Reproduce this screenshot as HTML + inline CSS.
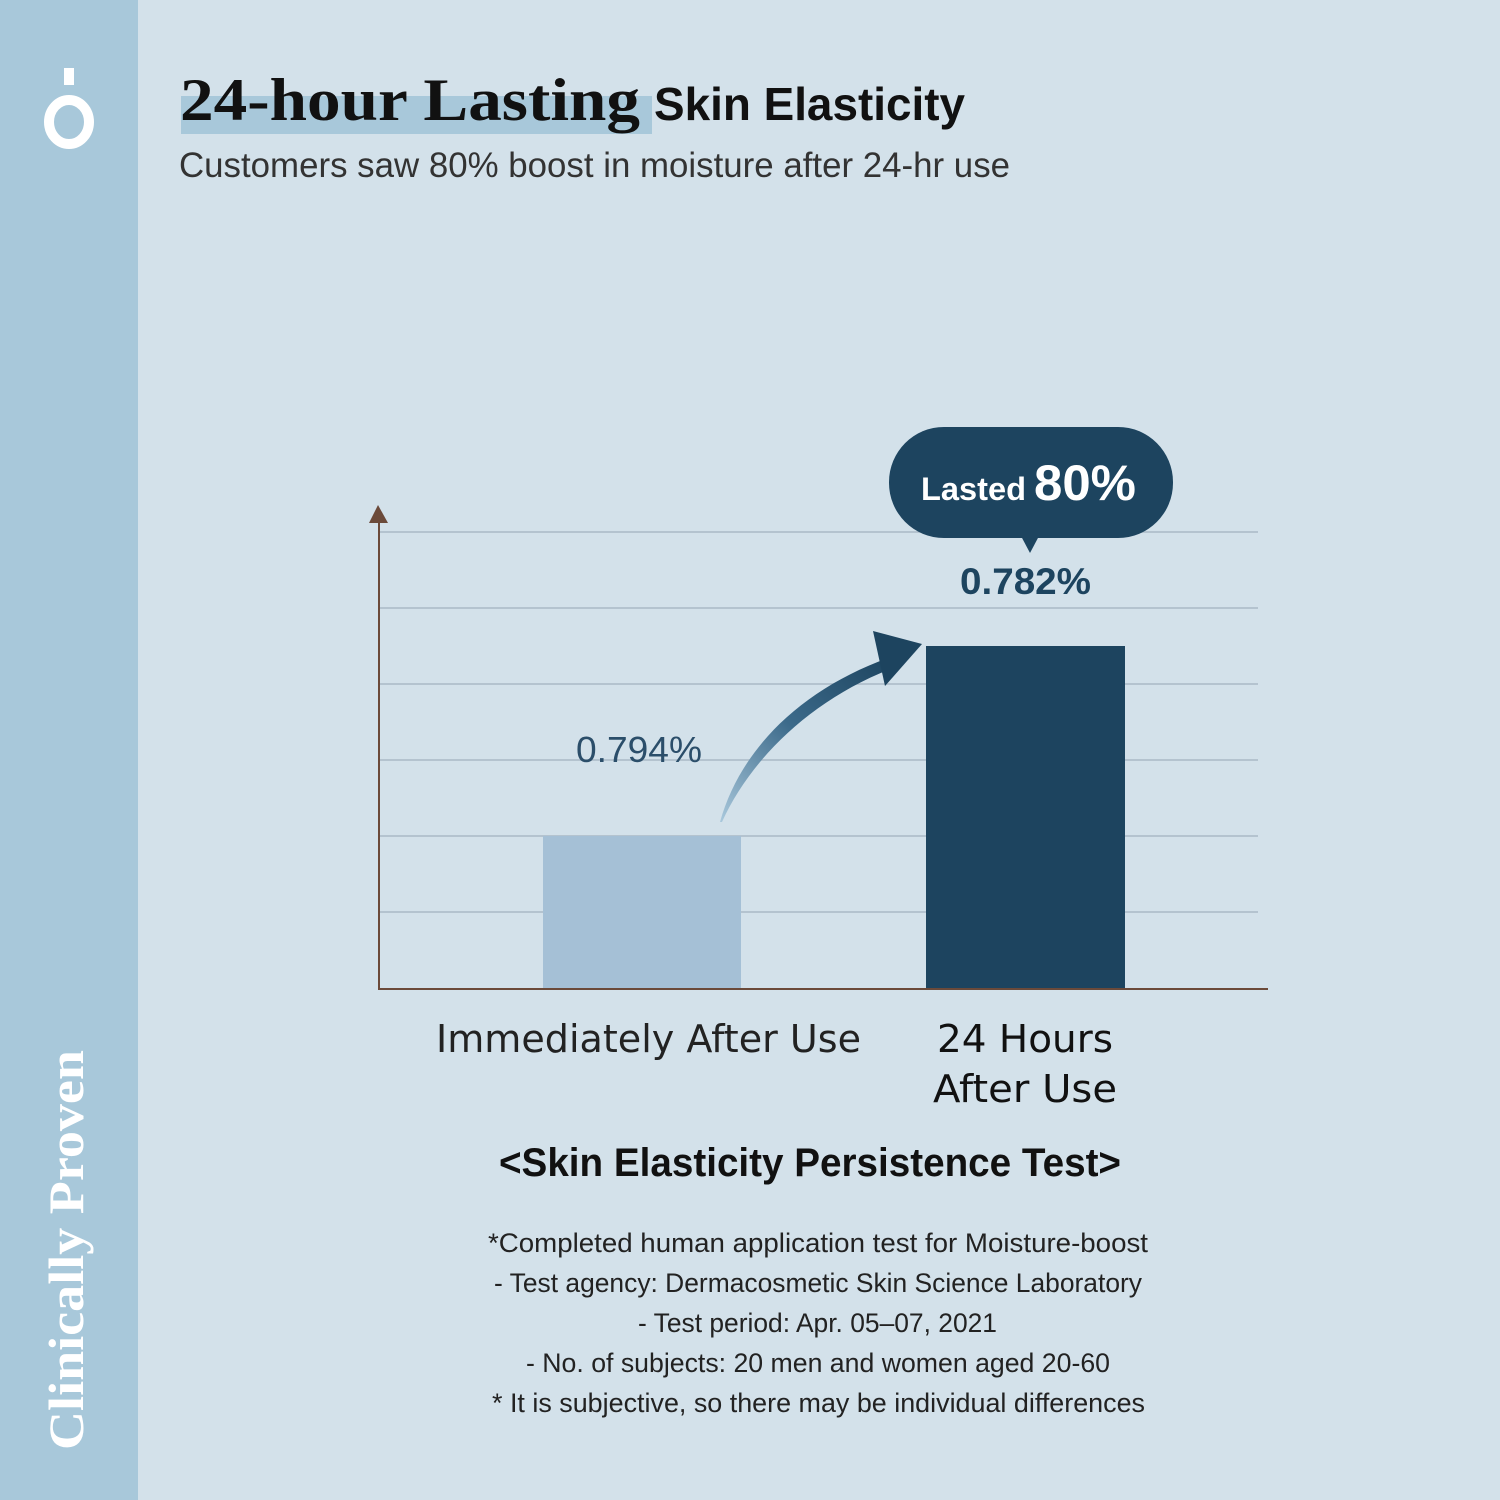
<!DOCTYPE html>
<html><head><meta charset="utf-8"><style>
html,body{margin:0;padding:0}
body{width:1500px;height:1500px;background:#d3e1ea;position:relative;overflow:hidden;font-family:"Liberation Sans","DejaVu Sans",sans-serif}
</style></head><body>
<svg width="1500" height="1500" viewBox="0 0 1500 1500" xmlns="http://www.w3.org/2000/svg" style="position:absolute;left:0;top:0">
<rect x="0" y="0" width="1500" height="1500" fill="#d3e1ea"/>
<rect x="0" y="0" width="138" height="1500" fill="#a8c8da"/>
<!-- logo -->
<rect x="64" y="68" width="10" height="17" fill="#fff"/>
<ellipse cx="69" cy="122" rx="20" ry="22" fill="none" stroke="#fff" stroke-width="10"/>
<text transform="translate(83,1450) rotate(-90)" font-family="Liberation Serif,serif" font-weight="bold" font-size="50" fill="#fff" textLength="400" lengthAdjust="spacingAndGlyphs">Clinically Proven</text>
<!-- title -->
<rect x="181" y="96" width="471" height="38" fill="#a8c8da"/>
<text x="180" y="120" font-family="Liberation Serif,serif" font-weight="bold" font-size="60" fill="#111" textLength="460" lengthAdjust="spacingAndGlyphs">24-hour Lasting</text>
<text x="654" y="120" font-family="Liberation Sans,sans-serif" font-weight="bold" font-size="46" fill="#111" textLength="311" lengthAdjust="spacingAndGlyphs">Skin Elasticity</text>
<text x="179" y="177" font-size="35" fill="#333" textLength="831" lengthAdjust="spacingAndGlyphs">Customers saw 80% boost in moisture after 24-hr use</text>
<!-- grid -->
<g stroke="#a9b9c6" stroke-width="1.5">
<line x1="380" y1="532" x2="1258" y2="532"/><line x1="380" y1="608" x2="1258" y2="608"/>
<line x1="380" y1="684" x2="1258" y2="684"/><line x1="380" y1="760" x2="1258" y2="760"/>
<line x1="380" y1="836" x2="1258" y2="836"/><line x1="380" y1="912" x2="1258" y2="912"/>
</g>
<rect x="543" y="836" width="198" height="153" fill="#a5c0d6"/>
<rect x="926" y="646" width="199" height="343" fill="#1d445f"/>
<line x1="379" y1="515" x2="379" y2="990" stroke="#6b4a3a" stroke-width="2"/>
<line x1="378" y1="989" x2="1268" y2="989" stroke="#6b4a3a" stroke-width="2"/>
<polygon points="378,505 369,523 388,523" fill="#6b4a3a"/>
<defs><linearGradient id="g" x1="0" y1="1" x2="1" y2="0"><stop offset="0" stop-color="#a9c8dc"/><stop offset="0.5" stop-color="#3c6a8a"/><stop offset="1" stop-color="#1d445f"/></linearGradient></defs>
<path d="M720,822 C740,750 800,690 888,658 L893,668 C810,700 750,760 722,822 Z" fill="url(#g)"/>
<polygon points="873,631 922,644 885,686" fill="#1d445f"/>
<text x="576" y="762" font-size="36" fill="#2b4e6a" textLength="126" lengthAdjust="spacingAndGlyphs">0.794%</text>
<!-- bubble -->
<rect x="889" y="427" width="284" height="111" rx="55" fill="#1d445f"/>
<polygon points="1021,536 1039,536 1030,553" fill="#1d445f"/>
<text x="921" y="500" fill="#fff" font-weight="bold" font-size="32" textLength="105" lengthAdjust="spacingAndGlyphs">Lasted</text>
<text x="1034" y="500" fill="#fff" font-weight="bold" font-size="50" textLength="102" lengthAdjust="spacingAndGlyphs">80%</text>
<text x="960" y="594" font-size="37" font-weight="bold" fill="#1d445f" textLength="131" lengthAdjust="spacingAndGlyphs">0.782%</text>
<!-- labels -->
<text x="436" y="1052" font-family="DejaVu Sans,sans-serif" font-size="38" fill="#222" textLength="425" lengthAdjust="spacingAndGlyphs">Immediately After Use</text>
<text x="937" y="1052" font-family="DejaVu Sans,sans-serif" font-size="38" fill="#111" textLength="176" lengthAdjust="spacingAndGlyphs">24 Hours</text>
<text x="933" y="1102" font-family="DejaVu Sans,sans-serif" font-size="38" fill="#111" textLength="184" lengthAdjust="spacingAndGlyphs">After Use</text>
<text x="499" y="1176" font-size="40" font-weight="bold" fill="#111" textLength="622" lengthAdjust="spacingAndGlyphs">&lt;Skin Elasticity Persistence Test&gt;</text>
<g font-size="27" fill="#222" lengthAdjust="spacingAndGlyphs">
<text x="488" y="1252" textLength="660" lengthAdjust="spacingAndGlyphs">*Completed human application test for Moisture-boost</text>
<text x="494" y="1292" textLength="648" lengthAdjust="spacingAndGlyphs">- Test agency: Dermacosmetic Skin Science Laboratory</text>
<text x="638" y="1332" textLength="359" lengthAdjust="spacingAndGlyphs">- Test period: Apr. 05–07, 2021</text>
<text x="526" y="1372" textLength="584" lengthAdjust="spacingAndGlyphs">- No. of subjects: 20 men and women aged 20-60</text>
<text x="492" y="1412" textLength="653" lengthAdjust="spacingAndGlyphs">* It is subjective, so there may be individual differences</text>
</g>
</svg>
</body></html>
